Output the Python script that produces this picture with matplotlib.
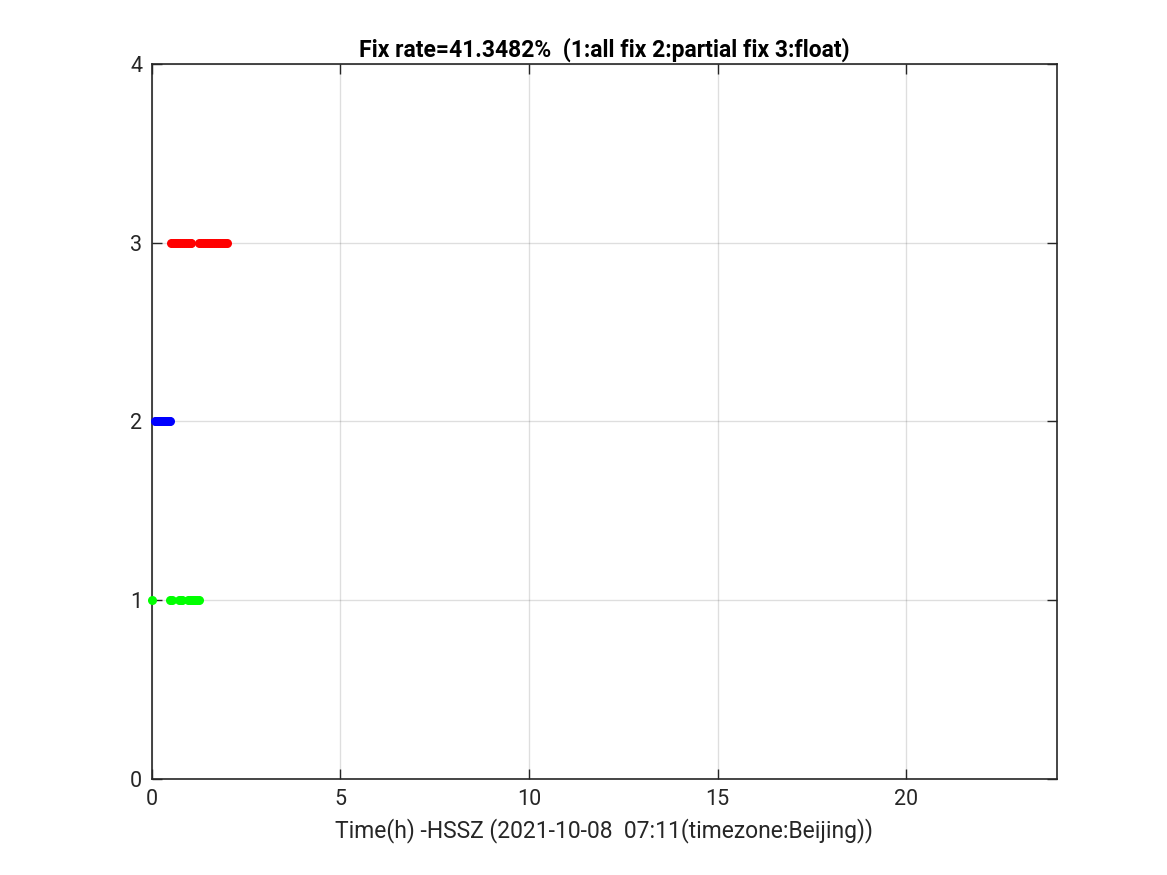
import matplotlib
matplotlib.use("Agg")
import matplotlib.pyplot as plt

plt.rcParams['font.family'] = ['Roboto', 'DejaVu Sans']

# Fix status samples (time in hours)
t_fix = [0.0, 0.48, 0.52, 0.72, 0.76, 0.80, 0.95, 1.00, 1.05, 1.10, 1.15, 1.20, 1.25]
t_partial = [0.08, 0.12, 0.16, 0.20, 0.24, 0.28, 0.32, 0.36, 0.40, 0.44, 0.48]
t_float = [0.50, 0.55, 0.60, 0.65, 0.70, 0.75, 0.80, 0.85, 0.90, 0.95, 1.00, 1.04,
           1.24, 1.30, 1.35, 1.40, 1.45, 1.50, 1.55, 1.60, 1.65, 1.70, 1.75, 1.80,
           1.85, 1.90, 1.95, 2.00]
status_fix = 1
status_partial = 2
status_float = 3

title = "Fix rate=41.3482%  (1:all fix 2:partial fix 3:float)"
xlabel = "Time(h) -HSSZ (2021-10-08  07:11(timezone:Beijing))"
xticks = [0, 5, 10, 15, 20]
yticks = [0, 1, 2, 3, 4]

fig = plt.figure(figsize=(11.67, 8.75), dpi=100)
ax = fig.add_axes([0.1302, 0.1097, 0.7755, 0.8172])

ms = 6.5
ax.plot(t_fix, [status_fix] * len(t_fix), 'o', color=(0, 1, 0), markersize=ms, markeredgewidth=0, zorder=3, clip_on=False)
ax.plot(t_partial, [status_partial] * len(t_partial), 'o', color=(0, 0, 1), markersize=ms, markeredgewidth=0, zorder=3, clip_on=False)
ax.plot(t_float, [status_float] * len(t_float), 'o', color=(1, 0, 0), markersize=ms, markeredgewidth=0, zorder=3, clip_on=False)

ax.set_xlim(0, 24)
ax.set_ylim(0, 4)
ax.set_xticks(xticks)
ax.set_yticks(yticks)
ax.grid(True, color=(0.15, 0.15, 0.15), alpha=0.15, linewidth=1)
ax.tick_params(direction='in', top=True, right=True, labelsize=15.5, colors=(0.15, 0.15, 0.15),
               length=7, width=1, pad=7)
for s in ax.spines.values():
    s.set_color((0.15, 0.15, 0.15))
    s.set_linewidth(1.2)
ax.set_title(title, fontsize=16.5, fontweight='bold', pad=5, color='black')
ax.set_xlabel(xlabel, fontsize=16.5, color=(0.15, 0.15, 0.15), labelpad=6)

fig.savefig("out.png", dpi=100)
